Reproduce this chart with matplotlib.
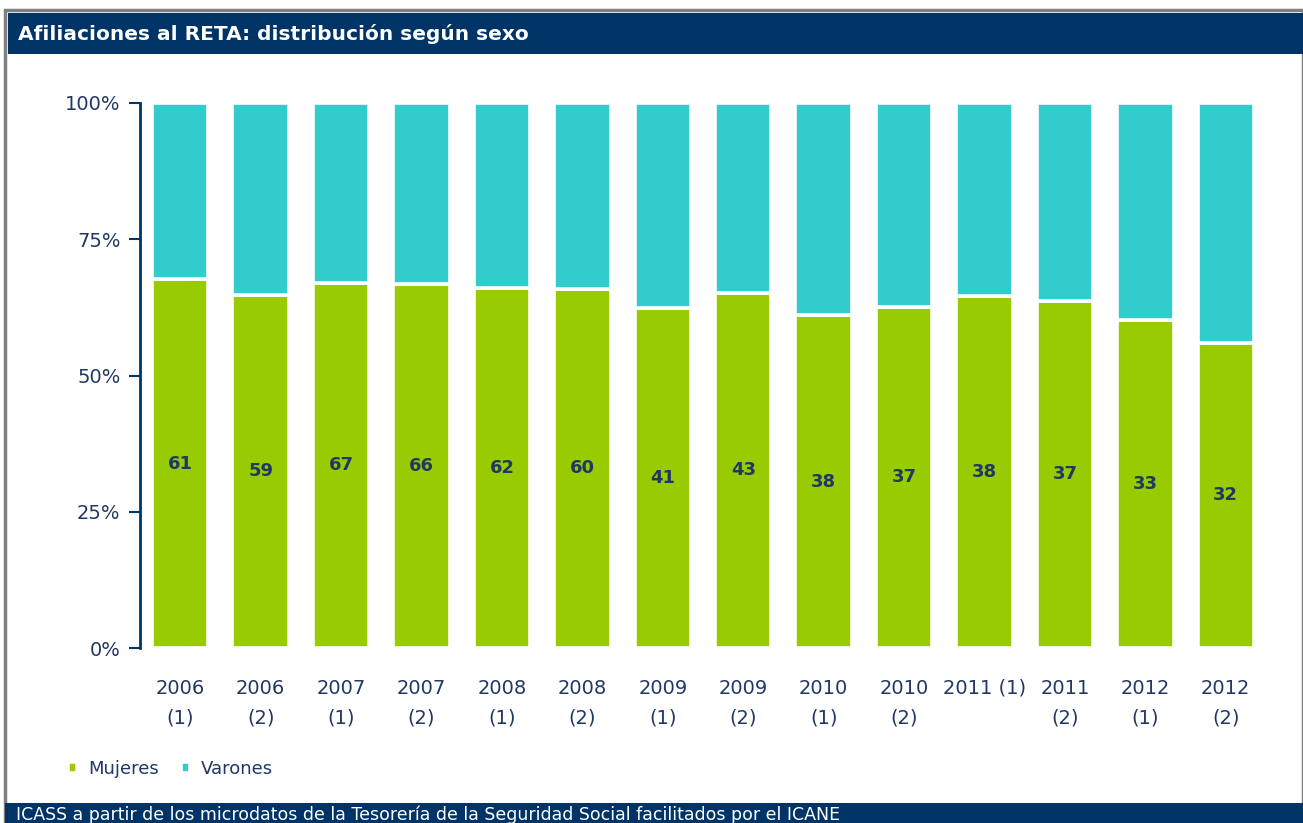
import matplotlib
matplotlib.use("Agg")
import matplotlib.pyplot as plt
from matplotlib.patches import Rectangle
import numpy as np

categories = ["2006\n(1)", "2006\n(2)", "2007\n(1)", "2007\n(2)", "2008\n(1)", "2008\n(2)",
              "2009\n(1)", "2009\n(2)", "2010\n(1)", "2010\n(2)", "2011 (1)", "2011\n(2)",
              "2012\n(1)", "2012\n(2)"]
mujeres = [67.7, 64.8, 67.0, 66.7, 66.0, 65.9, 62.3, 65.2, 61.1, 62.6, 64.5, 63.7, 60.1, 56.0]
varones = [100 - m for m in mujeres]
bar_labels = [61, 59, 67, 66, 62, 60, 41, 43, 38, 37, 38, 37, 33, 32]
yticks = [0, 25, 50, 75, 100]
ytick_labels = ["0%", "25%", "50%", "75%", "100%"]

NAVY = "#003366"
TEXT = "#1F3864"
GREEN = "#99CC00"
CYAN = "#33CCCC"

plt.rcParams['font.family'] = ['DejaVu Sans']

W, H = 1303, 823
fig = plt.figure(figsize=(W / 100, H / 100), dpi=100)

def fx(px):
    return px / W

def fy(py):
    return 1 - py / H

# frame
fig.patches.append(Rectangle((fx(5), fy(823)), fx(1303 - 5), fy(10) - fy(823), transform=fig.transFigure,
                             facecolor="none", edgecolor="#808080", linewidth=2.5, zorder=-5))
# title bar
fig.patches.append(Rectangle((fx(8), fy(54)), fx(1303 - 8), fy(13) - fy(54), transform=fig.transFigure,
                             facecolor=NAVY, edgecolor="none", zorder=-4))
fig.text(fx(18), fy(34), "Afiliaciones al RETA: distribución según sexo", color="white",
         fontsize=14.5, fontweight="bold", va="center", ha="left")
# footer bar
fig.patches.append(Rectangle((fx(5), fy(823)), fx(1303 - 5), fy(803) - fy(823), transform=fig.transFigure,
                             facecolor=NAVY, edgecolor="none", zorder=-4))
fig.text(fx(16), fy(815), "ICASS a partir de los microdatos de la Tesorería de la Seguridad Social facilitados por el ICANE",
         color="white", fontsize=12.5, va="center", ha="left")

ax = fig.add_axes([fx(140), fy(648), fx(1266 - 140), fy(103) - fy(648)])
ax.patch.set_alpha(0)
x = np.arange(len(categories))
ax.bar(x, mujeres, width=0.70, color=GREEN, edgecolor="white", linewidth=2.6, label="Mujeres")
ax.bar(x, varones, bottom=mujeres, width=0.70, color=CYAN, edgecolor="white", linewidth=2.6, label="Varones")
for xi, m, lab in zip(x, mujeres, bar_labels):
    ax.text(xi, m / 2, str(lab), ha="center", va="center", color=TEXT, fontsize=13, fontweight="bold")

ax.set_xlim(-0.5, 13.5)
ax.set_ylim(0, 100)
ax.set_yticks(yticks)
ax.set_yticklabels(ytick_labels, fontsize=14, color=TEXT)
ax.set_xticks(x)
ax.set_xticklabels(categories, fontsize=14, color=TEXT, linespacing=1.7, va="top")
ax.tick_params(axis="x", length=0, pad=22)
ax.tick_params(axis="y", direction="out", length=8, width=1.5, color=NAVY, pad=6)
for s in ["top", "right", "bottom"]:
    ax.spines[s].set_visible(False)
ax.spines["left"].set_color(NAVY)
ax.spines["left"].set_linewidth(2)

leg = fig.legend(loc="center left", bbox_to_anchor=(fx(52), fy(769)), ncol=2, frameon=False,
                 fontsize=13, handlelength=0.5, handleheight=0.5, handletextpad=0.6, columnspacing=1.2)
for t in leg.get_texts():
    t.set_color(TEXT)

fig.savefig("out.png", dpi=100)
